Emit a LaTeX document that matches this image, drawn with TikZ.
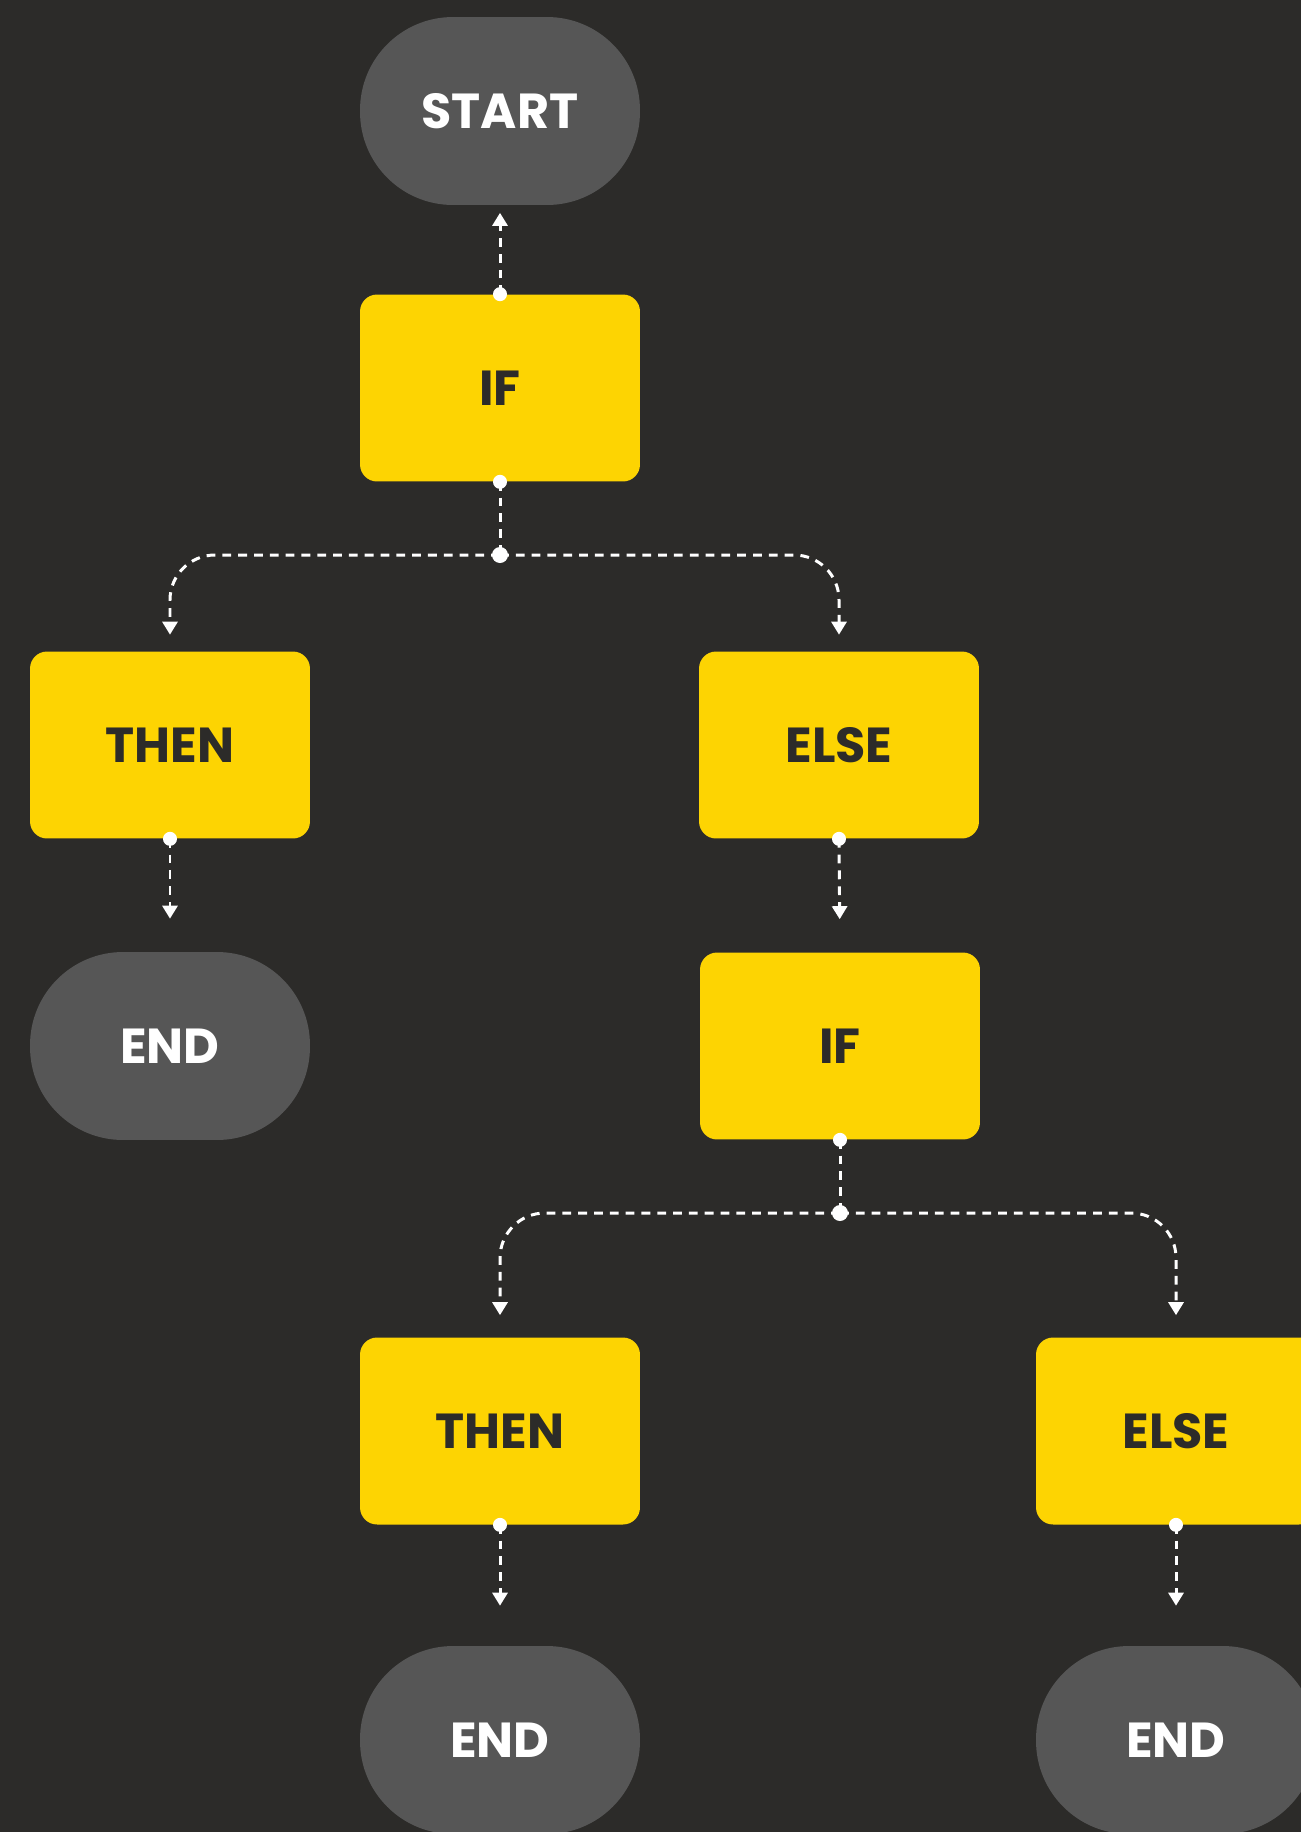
\documentclass[tikz,border=0pt]{standalone}
\usepackage{fontspec}
\setmainfont{Poppins}
\usetikzlibrary{arrows.meta,positioning}

\definecolor{bgdark}{HTML}{2C2B29}
\definecolor{pillgray}{HTML}{565656}
\definecolor{stepyellow}{HTML}{FDD402}

\tikzset{
  labelfont/.style={font=\fontsize{28}{30}\selectfont\bfseries},
  pill/.style={labelfont,fill=pillgray,text=white,rounded corners=1.86cm,
    minimum width=5.6cm,minimum height=3.76cm,inner sep=0pt},
  block/.style={labelfont,fill=stepyellow,text=bgdark,rounded corners=0.34cm,
    minimum width=5.6cm,minimum height=3.74cm,inner sep=0pt},
  dashline/.style={white,line width=1.7pt,dash pattern=on 5pt off 4pt},
  flow/.style={dashline,-{Triangle[length=0.26cm,width=0.3cm]}},
}

\begin{document}
\begin{tikzpicture}[x=0.02cm,y=-0.02cm]
	\useasboundingbox (0,0) rectangle (1301,1832);
	\clip (0,0) rectangle (1301,1832);
	\fill[bgdark] (0,0) rectangle (1301,1832);
	% boxes
	\node[pill] (start) at (500,111) {START};
	\node[block] (if1) at (500,388) {IF};
	\node[block] (then1) at (170,745) {THEN};
	\node[block] (else1) at (839,745) {ELSE};
	\node[pill] (end1) at (170,1046) {END};
	\node[block] (if2) at (840,1046) {IF};
	\node[block] (then2) at (500,1431) {THEN};
	\node[block] (else2) at (1176,1431) {ELSE};
	\node[pill] (end2) at (500,1740) {END};
	\node[pill] (end3) at (1176,1740) {END};
	\path
	(500,555) coordinate (j1)
	(840,1213) coordinate (j2)
	;
	% connectors
	\draw[flow,shorten >=0.15cm] (if1.north) -- (start.south);
	\draw[dashline] (if1.south) -- (j1);
	\draw[flow,rounded corners=0.9cm,shorten >=0.33cm] (j1) -| (then1.north);
	\draw[flow,rounded corners=0.9cm,shorten >=0.33cm] (j1) -| (else1.north);
	\draw[flow,shorten >=0.66cm] (then1.south) -- (end1.north);
	\draw[flow,shorten >=0.66cm] (else1.south) -- (if2.north);
	\draw[dashline] (if2.south) -- (j2);
	\draw[flow,rounded corners=0.9cm,shorten >=0.44cm] (j2) -| (then2.north);
	\draw[flow,rounded corners=0.9cm,shorten >=0.44cm] (j2) -| (else2.north);
	\draw[flow,shorten >=0.8cm] (then2.south) -- (end2.north);
	\draw[flow,shorten >=0.8cm] (else2.south) -- (end3.north);
	\foreach \p/\r in {if1.north/0.14,if1.south/0.14,j1/0.16,then1.south/0.14,else1.south/0.14,if2.south/0.14,j2/0.16,then2.south/0.14,else2.south/0.14} \fill[white] (\p) circle (\r cm);
\end{tikzpicture}
\end{document}
